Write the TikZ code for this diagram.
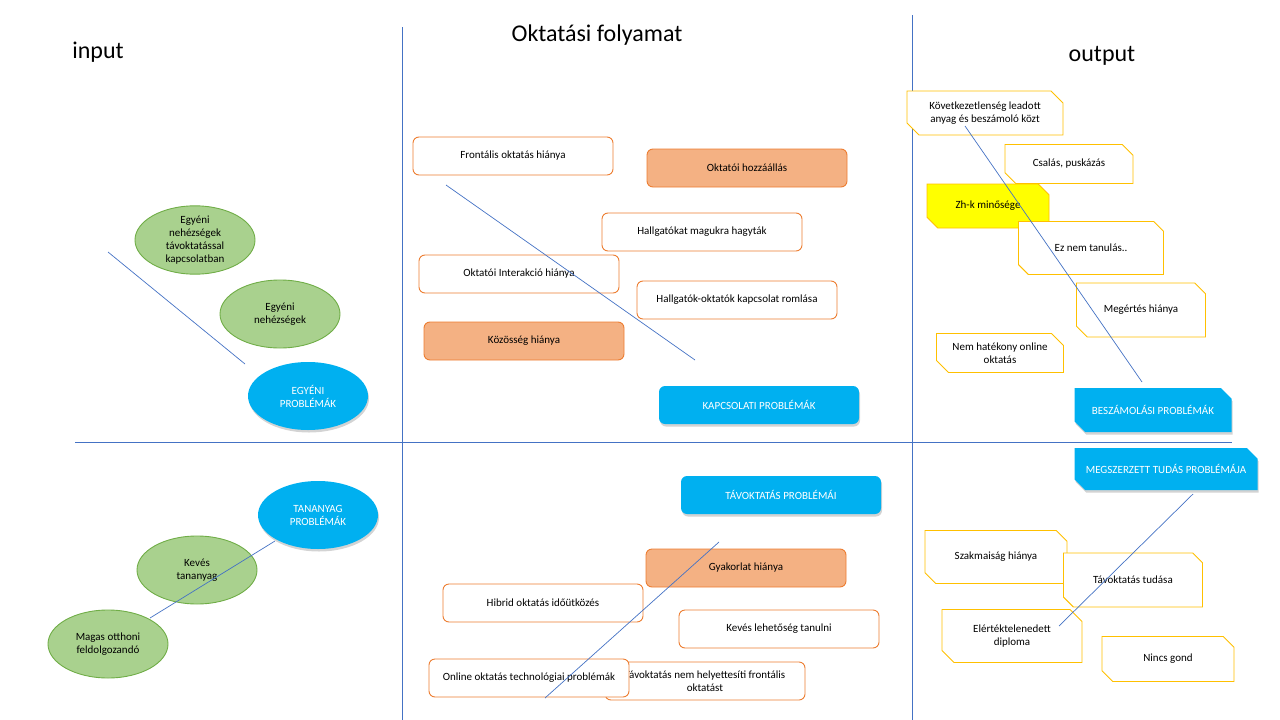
\documentclass[tikz,border=0pt]{standalone}
\usepackage{fontspec}
\setmainfont{Carlito}
\usepackage{tikz}
\usetikzlibrary{shapes.misc, shapes.geometric, shadows}
\definecolor{myBlue}{HTML}{4472C4}
\definecolor{myOrange}{HTML}{ED7D31}
\definecolor{myPeach}{HTML}{F4B183}
\definecolor{myGreen}{HTML}{A9D18E}
\definecolor{myGreenLine}{HTML}{70AD47}
\definecolor{myCyan}{HTML}{00B0F0}
\definecolor{myGold}{HTML}{FFC000}
\definecolor{myYellow}{HTML}{FFFF00}

\begin{document}
\begin{tikzpicture}[x=1pt, y=-1pt,
  cause/.style={draw=myOrange, line width=0.9pt, fill=white, rounded corners=6pt,
                minimum width=200pt, minimum height=38pt, inner sep=2pt,
                font=\fontsize{11}{13.5}\selectfont, align=center},
  causefill/.style={cause, fill=myPeach},
  group/.style={fill=myCyan, rounded corners=6pt, text=white,
                minimum width=200pt, minimum height=38pt,
                font=\fontsize{11}{13.5}\selectfont, align=center,
                drop shadow={opacity=0.35, shadow xshift=1pt, shadow yshift=-2.5pt}},
  outbox/.style={chamfered rectangle, chamfered rectangle corners={north east, south west},
                 chamfered rectangle xsep=6pt, chamfered rectangle ysep=6pt,
                 draw=myGold, line width=0.9pt, fill=white, inner sep=0pt,
                 font=\fontsize{11}{13.5}\selectfont, align=center},
  outgroup/.style={outbox, draw=none, fill=myCyan, text=white,
                   drop shadow={opacity=0.35, shadow xshift=1pt, shadow yshift=-2.5pt}},
  bubble/.style={ellipse, draw=myGreenLine, line width=0.9pt, fill=myGreen, inner sep=0pt,
                 minimum width=120pt, minimum height=68pt,
                 font=\fontsize{11}{13}\selectfont, align=center},
  topic/.style={bubble, draw=none, fill=myCyan, text=white,
                drop shadow={opacity=0.35, shadow xshift=1pt, shadow yshift=-2.5pt}},
  title/.style={font=\fontsize{24}{28}\selectfont},
  axis/.style={myBlue, line width=0.9pt},
  spine/.style={myBlue, line width=0.7pt}
]
\useasboundingbox (0,0) rectangle (1280,720);

\coordinate (v1top) at (402,27);
\coordinate (v1bot) at (402,720);
\coordinate (v2top) at (912,15);
\coordinate (v2bot) at (912,720);
\coordinate (hleft) at (75,442);
\coordinate (hright) at (1232,442);
\draw[axis] (v1top) -- (v1bot);
\draw[axis] (v2top) -- (v2bot);
\draw[axis] (hleft) -- (hright);

\node[title] (input) at (98,52) {input};
\node[title] (folyamat) at (597,35) {Oktatási folyamat};
\node[title] (output) at (1102,56) {output};

\node[bubble] (tavnehez) at (195,240) {Egyéni\\nehézségek\\távoktatással\\kapcsolatban};
\node[bubble] (nehez) at (280,314) {Egyéni\\nehézségek};
\node[topic] (egyeni) at (308,396) {EGYÉNI\\PROBLÉMÁK};

\node[topic] (tananyag) at (318,515) {TANANYAG\\PROBLÉMÁK};
\node[bubble] (keves) at (197,570) {Kevés\\tananyag};
\node[bubble] (magas) at (108,644) {Magas otthoni\\feldolgozandó};

\node[cause] (frontalis) at (513,156) {Frontális oktatás hiánya};
\node[causefill] (hozzaallas) at (747,168) {Oktatói hozzáállás};
\node[cause] (magukra) at (702,232) {Hallgatókat magukra hagyták};
\node[cause] (interakcio) at (519,274) {Oktatói Interakció hiánya};
\node[cause] (romlas) at (737,300) {Hallgatók-oktatók kapcsolat romlása};
\node[causefill] (kozosseg) at (524,341) {Közösség hiánya};
\node[group] (kapcsolati) at (759,405) {KAPCSOLATI PROBLÉMÁK};

\node[group] (tavoktatas) at (781,495) {TÁVOKTATÁS PROBLÉMÁI};
\node[causefill] (gyakorlat) at (746,568) {Gyakorlat hiánya};
\node[cause] (hibrid) at (543,603) {Hibrid oktatás időütközés};
\node[cause] (lehetoseg) at (779,629) {Kevés lehetőség tanulni};
\node[cause] (helyettesit) at (705,681) {Távoktatás nem helyettesíti frontális\\oktatást};
\node[cause] (technologia) at (529,678) {Online oktatás technológiai problémák};

\node[outbox, minimum width=156pt, minimum height=44pt] (kovetkezetlen) at (985,113) {Következetlenség leadott\\anyag és beszámoló közt};
\node[outbox, minimum width=128pt, minimum height=39pt] (csalas) at (1069,164) {Csalás, puskázás};
\node[outbox, fill=myYellow, minimum width=122pt, minimum height=44pt] (zhk) at (988,206) {Zh-k minősége};
\node[outbox, minimum width=145pt, minimum height=53pt] (eznem) at (1091,248) {Ez nem tanulás..};
\node[outbox, minimum width=129pt, minimum height=54pt] (megertes) at (1141,310) {Megértés hiánya};
\node[outbox, minimum width=127pt, minimum height=39pt] (hatekony) at (1000,353) {Nem hatékony online\\oktatás};
\node[outgroup, minimum width=157pt, minimum height=44pt] (beszamolasi) at (1153,410) {BESZÁMOLÁSI PROBLÉMÁK};

\node[outgroup, minimum width=183pt, minimum height=42pt] (megszerzett) at (1166,469) {MEGSZERZETT TUDÁS PROBLÉMÁJA};
\node[outbox, minimum width=142pt, minimum height=53pt] (szakmaisag) at (996,557) {Szakmaiság hiánya};
\node[outbox, minimum width=139pt, minimum height=54pt] (tudasa) at (1133,580) {Távoktatás tudása};
\node[outbox, minimum width=140pt, minimum height=53pt] (diploma) at (1012,636) {Elértéktelenedett\\diploma};
\node[outbox, minimum width=132pt, minimum height=45pt] (nincs) at (1168,659) {Nincs gond};

\coordinate (egyA) at (108,252);
\coordinate (egyB) at (245,364);
\coordinate (tanA) at (150,618);
\coordinate (tanB) at (275,541);
\coordinate (kapA) at (446,185);
\coordinate (kapB) at (695,360);
\coordinate (tavA) at (545,698);
\coordinate (tavB) at (719,542);
\coordinate (beszA) at (965,126);
\coordinate (beszB) at (1142,382);
\coordinate (tudA) at (1059,626);
\coordinate (tudB) at (1193,494);
\draw[spine] (egyA) -- (egyB);
\draw[spine] (tanA) -- (tanB);
\draw[spine] (kapA) -- (kapB);
\draw[spine] (tavA) -- (tavB);
\draw[spine] (beszA) -- (beszB);
\draw[spine] (tudA) -- (tudB);
\end{tikzpicture}
\end{document}
